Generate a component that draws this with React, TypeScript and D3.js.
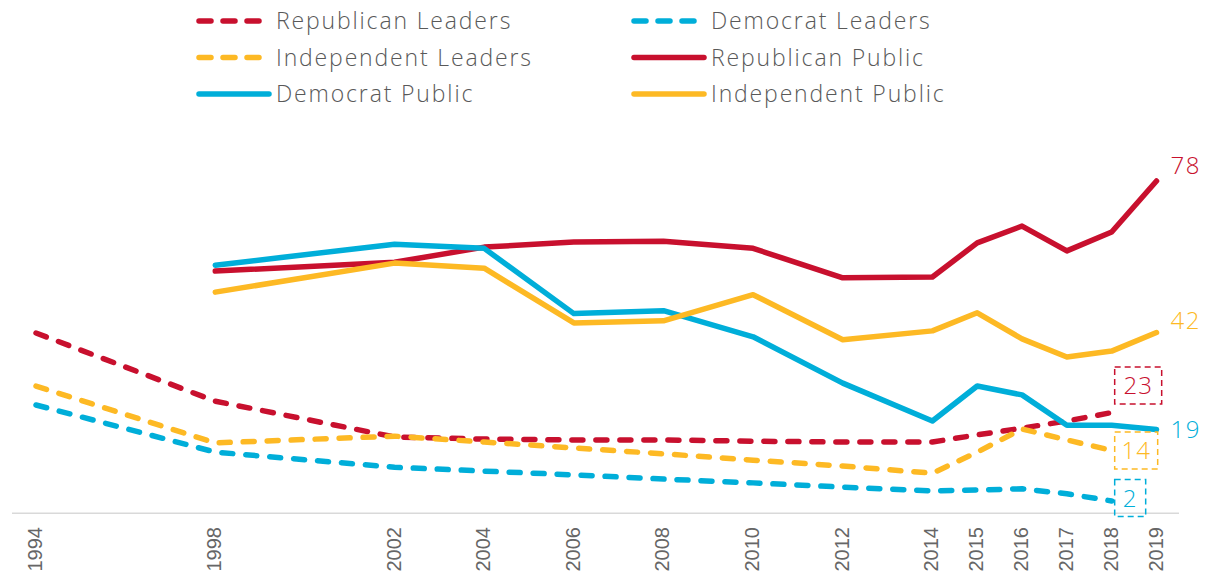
import React, { useEffect, useRef } from 'react';
import * as d3 from 'd3';

const years = [1994, 1998, 2002, 2004, 2006, 2008, 2010, 2012, 2014, 2015, 2016, 2017, 2018, 2019];
const leaderYears = years.slice(0, 13);
const publicYears = years.slice(1);

const repLeaders = [41.9, 25.7, 17.2, 16.7, 16.5, 16.5, 16.2, 16, 16, 17.7, 19.3, 21, 23];
const demLeaders = [24.8, 13.6, 10, 9.1, 8.2, 7.2, 6.3, 5.3, 4.4, 4.6, 4.9, 3.7, 2];
const indLeaders = [29.3, 15.8, 17.4, 16, 14.6, 13.2, 11.7, 10.3, 8.6, 13.6, 19.1, 16.5, 14];
const repPublic = [56.6, 58.7, 62.3, 63.5, 63.7, 62, 55, 55.2, 63.3, 67.3, 61.4, 65.9, 78];
const demPublic = [58, 63, 62, 46.5, 47.2, 41, 30, 21, 29.3, 27.2, 20, 20, 19];
const indPublic = [51.6, 58.5, 57.3, 44.3, 44.8, 51, 40.3, 42.4, 46.7, 40.5, 36.2, 37.6, 42];

const RED = '#c8102e';
const BLUE = '#00aed9';
const YELLOW = '#fdb924';

const series = [
  { name: 'Republican Leaders', years: leaderYears, values: repLeaders, color: RED, dashed: true },
  { name: 'Democrat Leaders', years: leaderYears, values: demLeaders, color: BLUE, dashed: true },
  { name: 'Independent Leaders', years: leaderYears, values: indLeaders, color: YELLOW, dashed: true },
  { name: 'Republican Public', years: publicYears, values: repPublic, color: RED, dashed: false },
  { name: 'Democrat Public', years: publicYears, values: demPublic, color: BLUE, dashed: false },
  { name: 'Independent Public', years: publicYears, values: indPublic, color: YELLOW, dashed: false },
];

// end labels: boxed ones belong to the leaders series
const endLabels = [
  { series: 'Republican Public', text: '78', boxed: false },
  { series: 'Independent Public', text: '42', boxed: false },
  { series: 'Democrat Public', text: '19', boxed: false },
  { series: 'Republican Leaders', text: '23', boxed: true },
  { series: 'Independent Leaders', text: '14', boxed: true },
  { series: 'Democrat Leaders', text: '2', boxed: true },
];

const FONT = "'Open Sans', 'Noto Sans', sans-serif";
const DASH = '11 13';

function Chart() {
  const ref = useRef<SVGSVGElement>(null);

  useEffect(() => {
    const width = 1217, height = 575;
    const svg = d3.select(ref.current);
    svg.selectAll('*').remove();

    const x = d3.scaleLinear().domain([1994, 2019]).range([36, 1156.5]);
    const y = d3.scaleLinear().domain([0, 78]).range([509.4, 181]);

    // baseline
    svg.append('line')
      .attr('x1', 12).attr('x2', 1179)
      .attr('y1', y(-0.9)).attr('y2', y(-0.9))
      .attr('stroke', '#d9d9d9').attr('stroke-width', 1.5);

    // year labels
    svg.append('g')
      .selectAll('text')
      .data(years)
      .join('text')
      .attr('transform', d => `translate(${x(d) + 6},527) rotate(-90)`)
      .attr('text-anchor', 'end')
      .attr('font-family', "'Liberation Sans', Arial, sans-serif")
      .attr('font-size', 20)
      .attr('fill', '#666')
      .text(d => d);

    const line = d3.line<[number, number]>()
      .x(d => x(d[0]))
      .y(d => y(d[1]));

    svg.append('g')
      .selectAll('path')
      .data(series)
      .join('path')
      .attr('d', s => line(s.years.map((yr, i) => [yr, s.values[i]] as [number, number])))
      .attr('fill', 'none')
      .attr('stroke', s => s.color)
      .attr('stroke-width', 5.5)
      .attr('stroke-linecap', 'round')
      .attr('stroke-linejoin', 'round')
      .attr('stroke-dasharray', s => (s.dashed ? DASH : null));

    // end labels
    const lg = svg.append('g');
    endLabels.forEach(l => {
      const s = series.find(d => d.name === l.series)!;
      const yr = s.years[s.years.length - 1];
      const v = s.values[s.values.length - 1];
      if (!l.boxed) {
        lg.append('text')
          .attr('x', x(yr) + 14)
          .attr('y', y(v) - (l.text === '78' ? 15 : l.text === '42' ? 12 : 0))
          .attr('dy', '0.35em')
          .attr('font-family', FONT)
          .attr('font-weight', 300)
          .attr('letter-spacing', 1.5)
          .attr('font-size', 24)
          .attr('fill', s.color)
          .text(l.text);
      } else {
        const cy = l.text === '23' ? 386 : l.text === '14' ? 451 : 498.5;
        const bw = l.text === '2' ? 31 : l.text === '14' ? 43 : 47;
        const bx = x(yr) + 3;
        lg.append('rect')
          .attr('x', bx).attr('y', cy - 19)
          .attr('width', bw).attr('height', 37)
          .attr('fill', 'none')
          .attr('stroke', s.color)
          .attr('stroke-width', 1.5)
          .attr('stroke-dasharray', '6 4');
        lg.append('text')
          .attr('x', bx + bw / 2)
          .attr('y', cy)
          .attr('dy', '0.35em')
          .attr('text-anchor', 'middle')
          .attr('font-family', FONT)
          .attr('font-weight', 300)
          .attr('letter-spacing', 1)
          .attr('font-size', 24)
          .attr('fill', s.color)
          .text(l.text);
      }
    });

    // legend
    const legendOrder = [
      'Republican Leaders', 'Democrat Leaders',
      'Independent Leaders', 'Republican Public',
      'Democrat Public', 'Independent Public',
    ];
    const leg = svg.append('g');
    legendOrder.forEach((name, i) => {
      const s = series.find(d => d.name === name)!;
      const col = i % 2, row = Math.floor(i / 2);
      const x0 = col === 0 ? 199 : 634;
      const yy = 21 + row * 36.5;
      leg.append('line')
        .attr('x1', x0).attr('x2', s.dashed ? x0 + 62 : x0 + 70)
        .attr('y1', yy).attr('y2', yy)
        .attr('stroke', s.color)
        .attr('stroke-width', 5.5)
        .attr('stroke-linecap', 'round')
        .attr('stroke-dasharray', s.dashed ? '12 12' : null);
      leg.append('text')
        .attr('x', x0 + 77)
        .attr('y', yy)
        .attr('dy', '0.35em')
        .attr('font-family', FONT)
        .attr('font-weight', 300)
        .attr('letter-spacing', 1.85)
        .attr('font-size', 23)
        .attr('fill', '#595959')
        .text(name);
    });

    svg.attr('width', width).attr('height', height);
  }, []);

  return <svg ref={ref} style={{ position: 'absolute', left: 0, top: 0, display: 'block' }} />;
}

export default function App() {
  return <Chart />;
}
